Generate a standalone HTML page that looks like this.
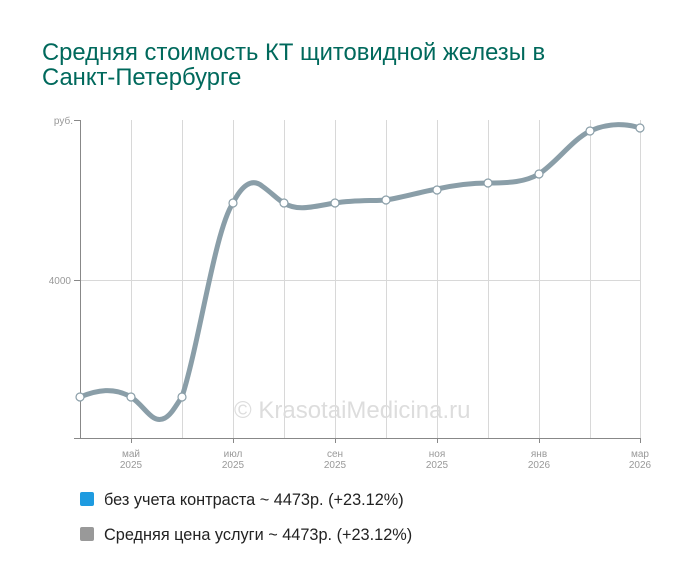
<!DOCTYPE html>
<html><head><meta charset="utf-8"><style>
body{margin:0;width:700px;height:583px;background:#fff;font-family:"Liberation Sans",sans-serif;overflow:hidden}
</style></head><body>
<svg width="700" height="583" xmlns="http://www.w3.org/2000/svg" font-family="Liberation Sans, sans-serif">
<text x="42" y="60" font-size="23.8" fill="#00695c">Средняя стоимость КТ щитовидной железы в</text>
<text x="42" y="85" font-size="23.8" fill="#00695c">Санкт-Петербурге</text>
<g stroke="#d8d8d8" stroke-width="1">
<line x1="80" y1="280.5" x2="640" y2="280.5"/>
<line x1="131.5" y1="120" x2="131.5" y2="438"/><line x1="182.5" y1="120" x2="182.5" y2="438"/>
<line x1="233.5" y1="120" x2="233.5" y2="438"/><line x1="284.5" y1="120" x2="284.5" y2="438"/>
<line x1="335.5" y1="120" x2="335.5" y2="438"/><line x1="386.5" y1="120" x2="386.5" y2="438"/>
<line x1="437.5" y1="120" x2="437.5" y2="438"/><line x1="488.5" y1="120" x2="488.5" y2="438"/>
<line x1="539.5" y1="120" x2="539.5" y2="438"/><line x1="590.5" y1="120" x2="590.5" y2="438"/>
<line x1="640.5" y1="120" x2="640.5" y2="438"/>
</g>
<g stroke="#888" stroke-width="1">
<line x1="74" y1="120.5" x2="80" y2="120.5"/><line x1="74" y1="280.5" x2="80" y2="280.5"/>
<line x1="80.5" y1="120" x2="80.5" y2="439"/><line x1="74" y1="438.5" x2="641" y2="438.5"/>
<line x1="131.5" y1="438" x2="131.5" y2="443"/><line x1="233.5" y1="438" x2="233.5" y2="443"/>
<line x1="335.5" y1="438" x2="335.5" y2="443"/><line x1="437.5" y1="438" x2="437.5" y2="443"/>
<line x1="539.5" y1="438" x2="539.5" y2="443"/><line x1="640.5" y1="438" x2="640.5" y2="443"/>
</g>
<g font-size="10" fill="#999">
<text x="73" y="124" text-anchor="end">руб.</text>
<text x="71" y="284" text-anchor="end">4000</text>
<g text-anchor="middle">
<text x="131" y="457">май</text><text x="131" y="468">2025</text>
<text x="233" y="457">июл</text><text x="233" y="468">2025</text>
<text x="335" y="457">сен</text><text x="335" y="468">2025</text>
<text x="437" y="457">ноя</text><text x="437" y="468">2025</text>
<text x="539" y="457">янв</text><text x="539" y="468">2026</text>
<text x="640" y="457">мар</text><text x="640" y="468">2026</text>
</g></g>
<text x="234" y="418" font-size="24" fill="#ddd">© KrasotaiMedicina.ru</text>
<path d="M80,397 C97,390 114,387 131,397 C145,406 152,425 165,418 C172,414 176,405 182,397 C200,340 215,230 233,203 C242,185 252,178 262,186 C272,193 278,200 284,203 C298,212 315,206 335,203 C355,200 370,201 386,200 C405,197 420,192 437,189 C455,185 470,183 488,183 C510,183 525,182 539,174 C557,162 572,140 590,131 C610,122 628,124 640,128" fill="none" stroke="#8a9ea8" stroke-width="5"/>
<g fill="#fff" stroke="#8a9ea8" stroke-width="1.2">
<circle cx="80" cy="397" r="4"/><circle cx="131" cy="397" r="4"/><circle cx="182" cy="397" r="4"/>
<circle cx="233" cy="203" r="4"/><circle cx="284" cy="203" r="4"/><circle cx="335" cy="203" r="4"/>
<circle cx="386" cy="200" r="4"/><circle cx="437" cy="190" r="4"/><circle cx="488" cy="183" r="4"/>
<circle cx="539" cy="174" r="4"/><circle cx="590" cy="131" r="4"/><circle cx="640" cy="128" r="4"/>
</g>
<rect x="80" y="492" width="14" height="14" rx="2" fill="#1e9be0"/>
<text x="104" y="505" font-size="16.3" fill="#222">без учета контраста ~ 4473р. (+23.12%)</text>
<rect x="80" y="527" width="14" height="14" rx="2" fill="#999"/>
<text x="104" y="540" font-size="16.3" fill="#222">Средняя цена услуги ~ 4473р. (+23.12%)</text>
</svg>
</body></html>
